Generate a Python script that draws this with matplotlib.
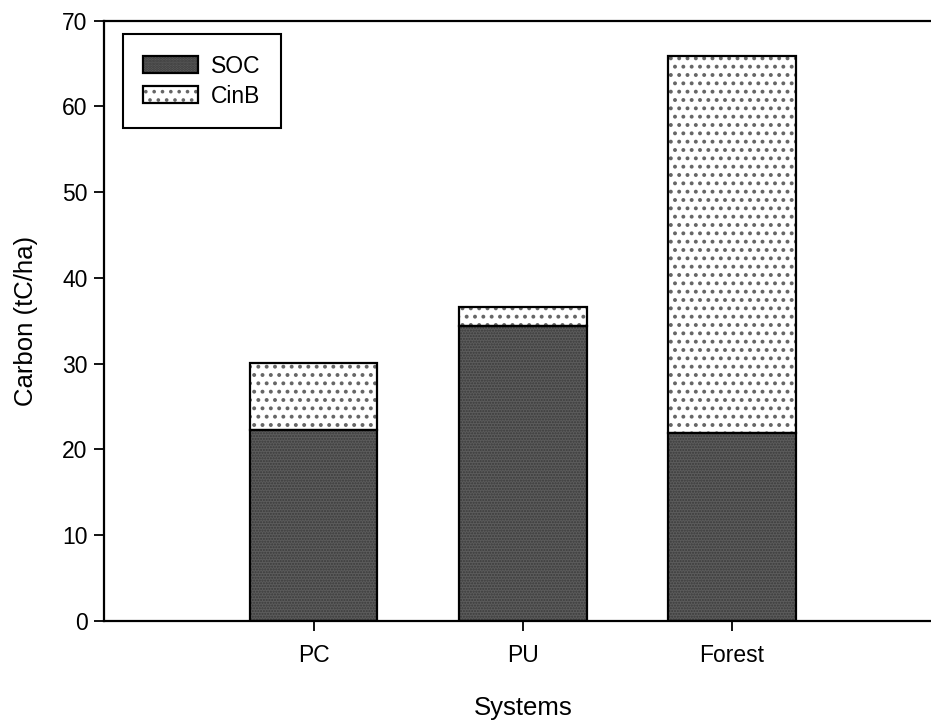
import matplotlib
matplotlib.use("Agg")
import matplotlib.pyplot as plt
from matplotlib.patches import Patch
from matplotlib.legend_handler import HandlerTuple

categories = ["PC", "PU", "Forest"]
soc = [22.3, 34.4, 21.9]
cinb = [7.8, 2.2, 44.0]
yticks = [0, 10, 20, 30, 40, 50, 60, 70]

plt.rcParams['font.family'] = ['Liberation Sans', 'DejaVu Sans']

W, H = 931, 721
fig = plt.figure(figsize=(W / 100, H / 100), dpi=100)
top_px, bottom_px = 20.7, 620.8
x0_px = 313.5 - 209.3  # x=0
x4_px = 313.5 + 3 * 209.3  # x=4
ax = fig.add_axes([x0_px / W, 1 - bottom_px / H,
                   (x4_px - x0_px) / W, (bottom_px - top_px) / H])

x = list(range(1, len(categories) + 1))
width = 0.61
soc_face, soc_hatch = '#5c5c5c', '#3a3a3a'
cinb_face, cinb_hatch = 'white', '#666666'

with plt.rc_context({'hatch.linewidth': 1.0}):
    ax.bar(x, soc, width=width, color=soc_face, edgecolor=soc_hatch,
           hatch='......', linewidth=0, zorder=2)
    h_soc_fill = Patch(facecolor=soc_face, edgecolor=soc_hatch,
                       hatch='......', linewidth=0)
with plt.rc_context({'hatch.linewidth': 1.6}):
    ax.bar(x, cinb, width=width, bottom=soc, color=cinb_face,
           edgecolor=cinb_hatch, hatch='..', linewidth=0, zorder=2)
    h_cinb_fill = Patch(facecolor=cinb_face, edgecolor=cinb_hatch,
                        hatch='..', linewidth=0)
ax.bar(x, soc, width=width, fill=False, edgecolor='black', linewidth=1.6, zorder=3)
ax.bar(x, cinb, width=width, bottom=soc, fill=False, edgecolor='black',
       linewidth=1.6, zorder=3)

ax.set_xlim(0, 4)
ax.set_ylim(0, 70)
ax.set_xticks(x)
ax.set_xticklabels(categories)
ax.set_yticks(yticks)
ax.tick_params(axis='both', direction='out', length=7, width=1.3,
               labelsize=16.5, colors='black')
ax.tick_params(axis='x', pad=10)
ax.tick_params(axis='y', pad=5)

for s in ['left', 'bottom', 'top']:
    ax.spines[s].set_linewidth(1.6)
ax.spines['right'].set_visible(False)

ax.set_xlabel("Systems", fontsize=18.5)
ax.set_ylabel("Carbon (tC/ha)", fontsize=18.5)
ax.xaxis.set_label_coords(0.5, -0.146)
ax.xaxis.label.set_va('center')
ax.yaxis.set_label_coords(-0.093, 0.5)
ax.yaxis.label.set_va('center')

h_soc = (h_soc_fill, Patch(fill=False, edgecolor='black', linewidth=1.6))
h_cinb = (h_cinb_fill, Patch(fill=False, edgecolor='black', linewidth=1.6))
with plt.rc_context({'hatch.linewidth': 1.4}):
    leg = ax.legend([h_soc, h_cinb], ["SOC", "CinB"],
                    handler_map={tuple: HandlerTuple(ndivide=1)},
                    loc='upper left', bbox_to_anchor=(0.0221, 0.9778),
                    borderaxespad=0,
                    fontsize=16.5, fancybox=False, framealpha=1,
                    edgecolor='black', handlelength=2.4, handleheight=0.72,
                    handletextpad=0.55, borderpad=0.9, labelspacing=0.3)
leg.get_frame().set_linewidth(1.5)

fig.savefig("out.png", dpi=100)
